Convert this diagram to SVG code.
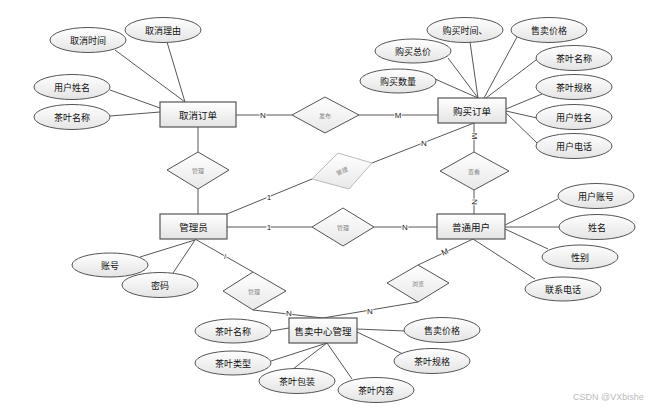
<svg xmlns="http://www.w3.org/2000/svg" width="670" height="413" viewBox="0 0 670 413">
<defs>
<linearGradient id="g" x1="0" y1="0" x2="0" y2="1"><stop offset="0" stop-color="#ffffff"/><stop offset="1" stop-color="#e4e4e4"/></linearGradient>
<linearGradient id="gd" x1="0" y1="0" x2="0" y2="1"><stop offset="0" stop-color="#ffffff"/><stop offset="1" stop-color="#e8e8e8"/></linearGradient>
</defs>
<style>
.e{fill:url(#g);stroke:#555;stroke-width:1}
.r{fill:url(#g);stroke:#555;stroke-width:1.2}
.d{fill:url(#gd);stroke:#555;stroke-width:1}
.c line,.c polyline{stroke:#444;stroke-width:0.9;fill:none}
text{font-family:"Noto Sans CJK SC","Noto Sans",sans-serif;text-anchor:middle;dominant-baseline:central}
.t{font-size:9px;fill:#111}
.rt{font-size:9.5px;fill:#111}
.dt{font-size:6px;fill:#888}
.k{font-family:"Liberation Sans",sans-serif;font-size:8px;fill:#222;paint-order:stroke;stroke:#fff;stroke-width:2}
.w{font-family:"Liberation Sans",sans-serif;font-size:9px;fill:#bbb;text-anchor:start}
</style>
<rect width="670" height="413" fill="#fff"/>
<g class="c" id="connectors">
<line x1="115" y1="50" x2="185" y2="102"/>
<line x1="167" y1="42" x2="185" y2="102"/>
<line x1="110" y1="90" x2="160" y2="108"/>
<line x1="110" y1="116" x2="160" y2="112"/>
<line x1="470" y1="42" x2="478" y2="98"/>
<line x1="517" y1="37" x2="484" y2="98"/>
<line x1="448" y1="58" x2="478" y2="98"/>
<line x1="435" y1="79" x2="478" y2="98"/>
<line x1="536" y1="60" x2="486" y2="98"/>
<line x1="542" y1="94" x2="506" y2="109"/>
<line x1="537" y1="118" x2="506" y2="111"/>
<line x1="537" y1="143" x2="506" y2="113"/>
<line x1="236" y1="115" x2="292" y2="115"/>
<line x1="359" y1="115" x2="438" y2="115"/>
<line x1="198" y1="127" x2="198" y2="152"/>
<line x1="198" y1="189" x2="198" y2="214"/>
<polyline points="227,214 312,179"/>
<line x1="372" y1="163" x2="474" y2="123"/>
<line x1="474" y1="123" x2="474" y2="152"/>
<line x1="474" y1="190" x2="474" y2="214"/>
<line x1="227" y1="227" x2="312" y2="227"/>
<line x1="374" y1="227" x2="437" y2="227"/>
<line x1="473" y1="239" x2="418" y2="265"/>
<line x1="418" y1="302" x2="323" y2="318"/>
<line x1="195" y1="239" x2="253" y2="272"/>
<line x1="253" y1="310" x2="323" y2="318"/>
<line x1="195" y1="240" x2="140" y2="257"/>
<line x1="195" y1="240" x2="173" y2="273"/>
<line x1="505" y1="225" x2="558" y2="199"/>
<line x1="505" y1="227" x2="559" y2="227"/>
<line x1="505" y1="229" x2="548" y2="249"/>
<line x1="473" y1="239" x2="535" y2="279"/>
<line x1="271" y1="331" x2="289" y2="328"/>
<line x1="271" y1="361" x2="327" y2="343"/>
<line x1="293" y1="369" x2="327" y2="343"/>
<line x1="352" y1="379" x2="327" y2="343"/>
<line x1="405" y1="331" x2="357" y2="329"/>
<line x1="405" y1="355" x2="357" y2="332"/>
<text class="k" x="263" y="115">N</text>
<text class="k" x="398" y="115">M</text>
<text class="k" x="269" y="197">1</text>
<text class="k" x="424" y="143">N</text>
<text class="k" x="474" y="136" transform="rotate(90 474 136)">M</text>
<text class="k" x="474" y="202" transform="rotate(90 474 202)">N</text>
<text class="k" x="269" y="227">1</text>
<text class="k" x="405" y="227">N</text>
<text class="k" x="445" y="252" transform="rotate(-25 445 252)">M</text>
<text class="k" x="370" y="311">N</text>
<text class="k" x="225" y="256">/</text>
<text class="k" x="289" y="313">N</text>
</g>
<g id="cancel-order"><rect class="r" x="160" y="102" width="76" height="25"/><text class="rt" x="198" y="114.5">取消订单</text></g>
<g id="buy-order"><rect class="r" x="438" y="98" width="68" height="25"/><text class="rt" x="472" y="110.5">购买订单</text></g>
<g id="admin"><rect class="r" x="160" y="214" width="67" height="25"/><text class="rt" x="193.5" y="226.5">管理员</text></g>
<g id="user"><rect class="r" x="437" y="214" width="68" height="25"/><text class="rt" x="471" y="226.5">普通用户</text></g>
<g id="sale-center"><rect class="r" x="289" y="318" width="68" height="25"/><text class="rt" x="323" y="330.5">售卖中心管理</text></g>
<g id="rel-publish"><polygon class="d" points="325,97 359,115 325,133 292,115"/><text class="dt" x="325" y="115">发布</text></g>
<g id="rel-manage1"><polygon class="d" points="198,152 229,170 198,189 167,170"/><text class="dt" x="198" y="170">管理</text></g>
<g id="rel-manage2"><polygon points="338,153 372,163 349,189 312,179" fill="url(#gd)" stroke="#bbb" stroke-width="1"/><text class="dt" x="342" y="171" transform="rotate(-25 342 171)">管理</text></g>
<g id="rel-view"><polygon class="d" points="474,152 509,171 474,190 440,171"/><text class="dt" x="474" y="171">查看</text></g>
<g id="rel-manage3"><polygon class="d" points="343,208 374,227 343,246 312,227"/><text class="dt" x="343" y="227">管理</text></g>
<g id="rel-browse"><polygon class="d" points="418,265 449,283 418,302 387,283"/><text class="dt" x="418" y="283">浏览</text></g>
<g id="rel-manage4"><polygon class="d" points="253,272 286,291 253,310 223,291"/><text class="dt" x="254" y="291">管理</text></g>
<g id="a1"><ellipse class="e" cx="88" cy="40" rx="38" ry="12.5"/><text class="t" x="88" y="40">取消时间</text></g>
<g id="a2"><ellipse class="e" cx="163" cy="30" rx="38" ry="12.5"/><text class="t" x="163" y="30">取消理由</text></g>
<g id="a3"><ellipse class="e" cx="72" cy="87" rx="38" ry="12.5"/><text class="t" x="72" y="87">用户姓名</text></g>
<g id="a4"><ellipse class="e" cx="72" cy="117" rx="38" ry="12.5"/><text class="t" x="72" y="117">茶叶名称</text></g>
<g id="a5"><ellipse class="e" cx="465" cy="30" rx="38" ry="12.5"/><text class="t" x="465" y="30">购买时间、</text></g>
<g id="a6"><ellipse class="e" cx="549" cy="30" rx="38" ry="12.5"/><text class="t" x="549" y="30">售卖价格</text></g>
<g id="a7"><ellipse class="e" cx="413" cy="51" rx="38" ry="12"/><text class="t" x="413" y="51">购买总价</text></g>
<g id="a8"><ellipse class="e" cx="398" cy="81" rx="38" ry="12"/><text class="t" x="398" y="81">购买数量</text></g>
<g id="a9"><ellipse class="e" cx="574" cy="58" rx="38" ry="12.5"/><text class="t" x="574" y="58">茶叶名称</text></g>
<g id="a10"><ellipse class="e" cx="574" cy="87" rx="38" ry="12.5"/><text class="t" x="574" y="87">茶叶规格</text></g>
<g id="a11"><ellipse class="e" cx="574" cy="117" rx="38" ry="12.5"/><text class="t" x="574" y="117">用户姓名</text></g>
<g id="a12"><ellipse class="e" cx="574" cy="146" rx="38" ry="12.5"/><text class="t" x="574" y="146">用户电话</text></g>
<g id="a13"><ellipse class="e" cx="110" cy="265" rx="38" ry="12"/><text class="t" x="110" y="265">账号</text></g>
<g id="a14"><ellipse class="e" cx="160" cy="285" rx="38" ry="12.5"/><text class="t" x="160" y="285">密码</text></g>
<g id="a15"><ellipse class="e" cx="596" cy="196" rx="38" ry="12.5"/><text class="t" x="596" y="196">用户账号</text></g>
<g id="a16"><ellipse class="e" cx="597" cy="227" rx="38" ry="12.5"/><text class="t" x="597" y="227">姓名</text></g>
<g id="a17"><ellipse class="e" cx="580" cy="257" rx="38" ry="12"/><text class="t" x="580" y="257">性别</text></g>
<g id="a18"><ellipse class="e" cx="563" cy="289" rx="38" ry="12"/><text class="t" x="563" y="289">联系电话</text></g>
<g id="a19"><ellipse class="e" cx="233" cy="331" rx="38" ry="12"/><text class="t" x="233" y="331">茶叶名称</text></g>
<g id="a20"><ellipse class="e" cx="233" cy="363" rx="38" ry="12"/><text class="t" x="233" y="363">茶叶类型</text></g>
<g id="a21"><ellipse class="e" cx="297" cy="381" rx="38" ry="12.5"/><text class="t" x="297" y="381">茶叶包装</text></g>
<g id="a22"><ellipse class="e" cx="376" cy="390" rx="38" ry="12.5"/><text class="t" x="376" y="390">茶叶内容</text></g>
<g id="a23"><ellipse class="e" cx="442" cy="330" rx="38" ry="12.5"/><text class="t" x="442" y="330">售卖价格</text></g>
<g id="a24"><ellipse class="e" cx="432" cy="361" rx="38" ry="12.5"/><text class="t" x="432" y="361">茶叶规格</text></g>
<text class="w" x="573" y="397">CSDN @VXbishe</text>
</svg>
